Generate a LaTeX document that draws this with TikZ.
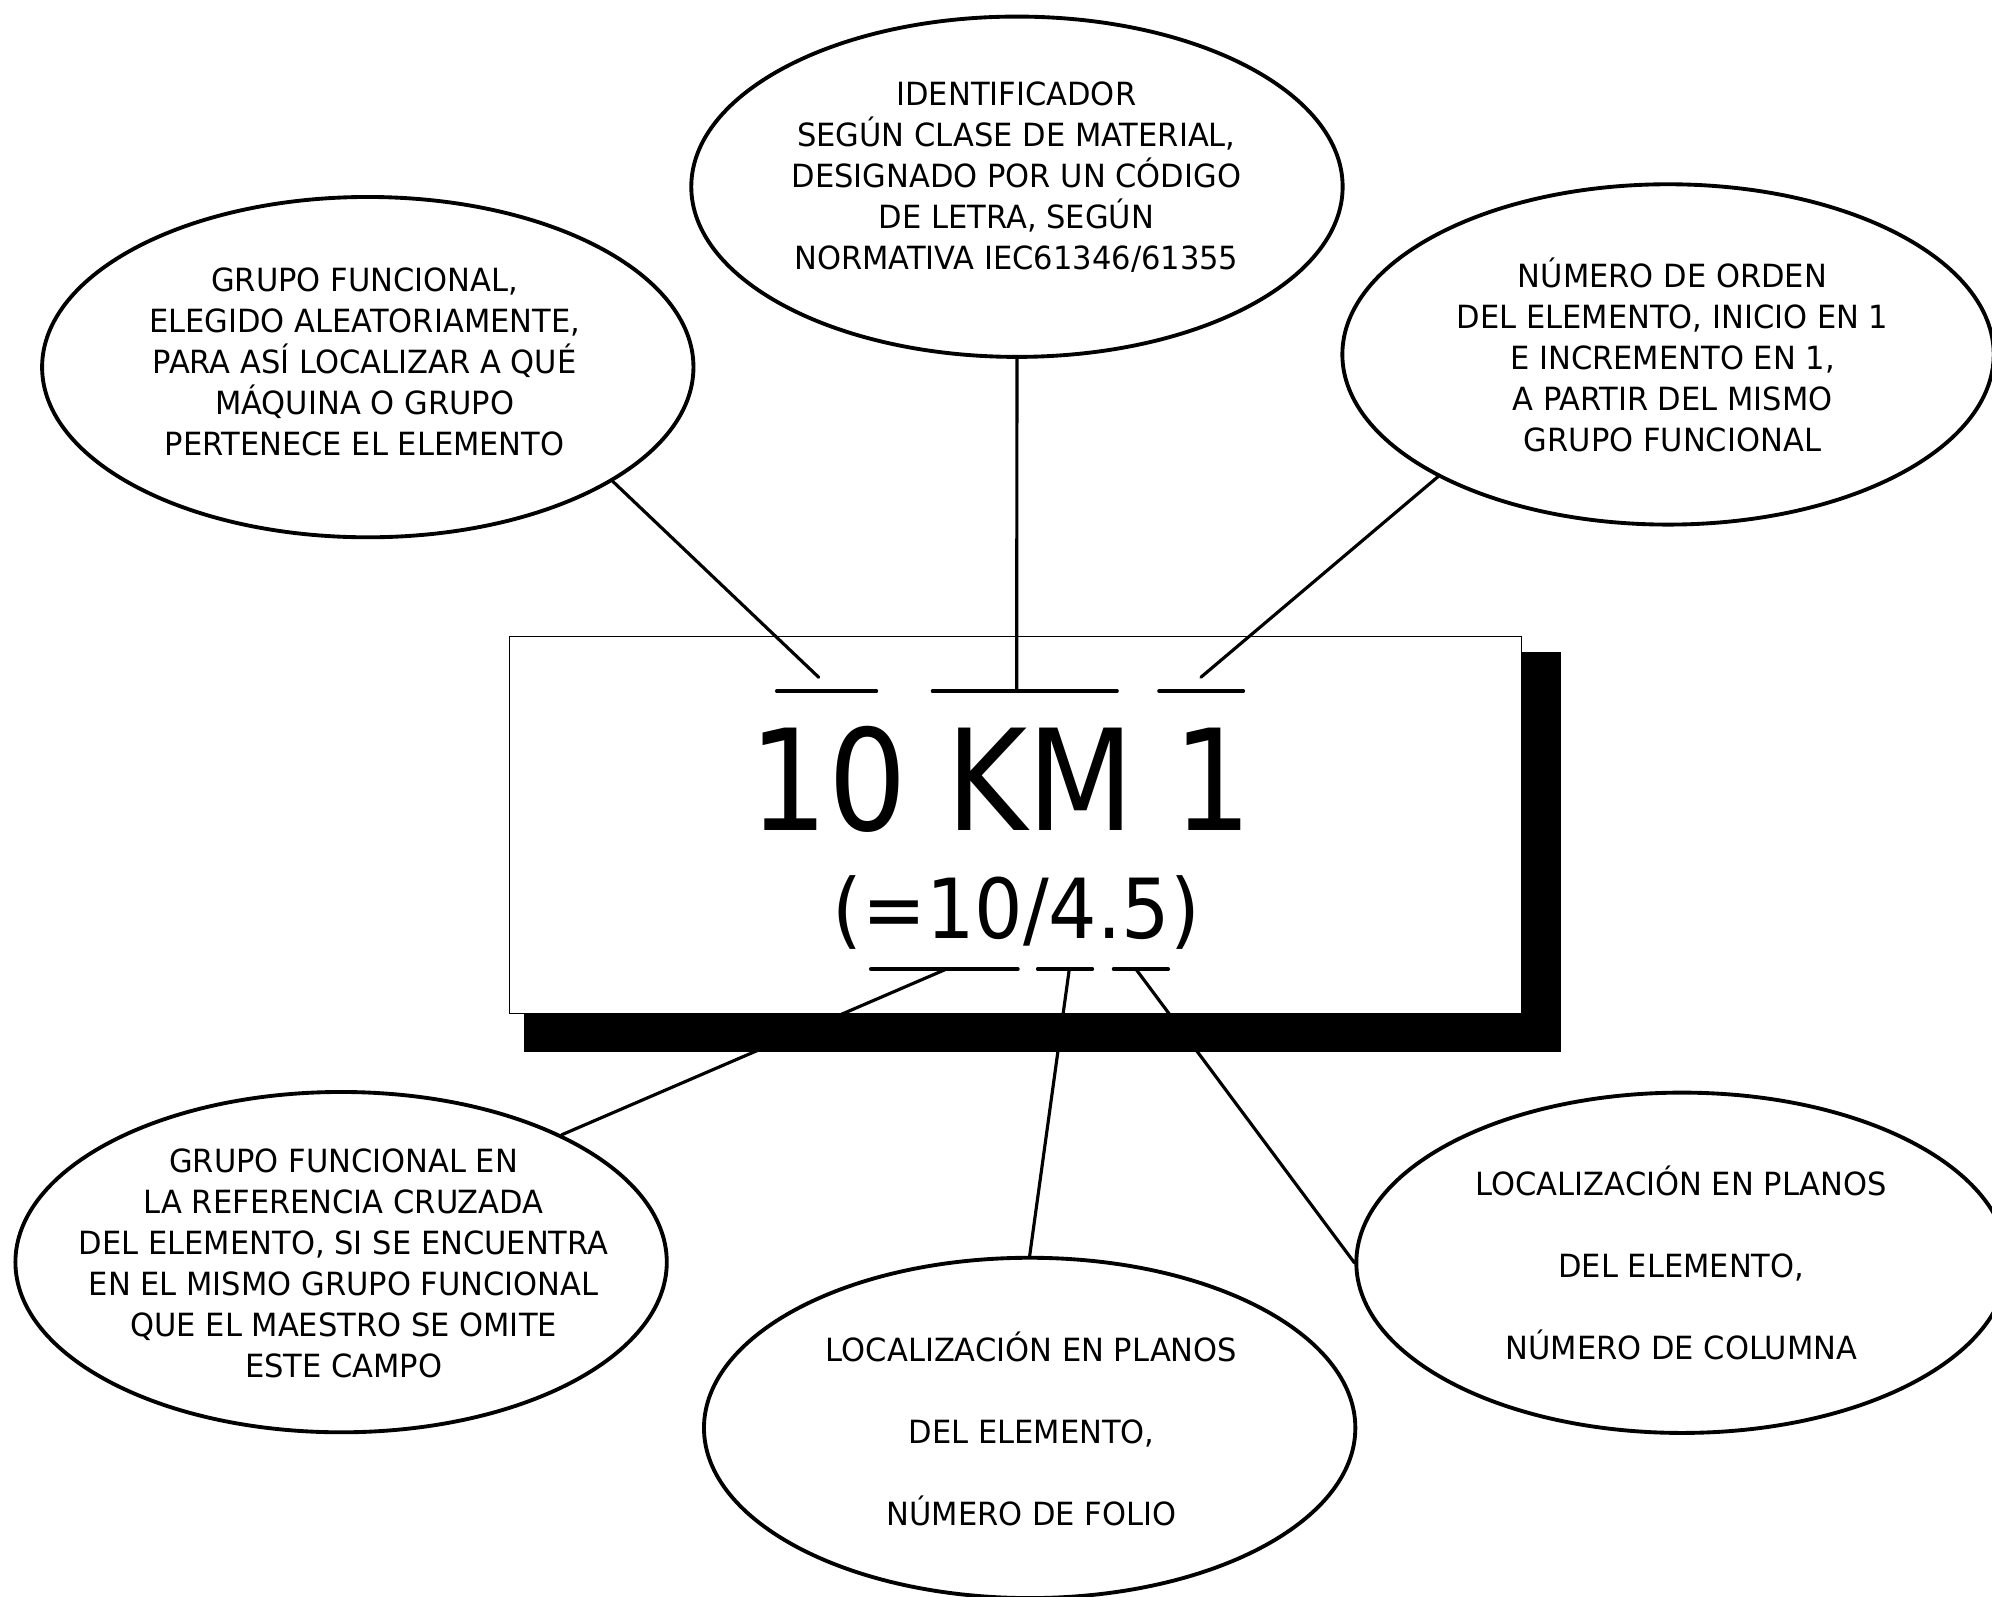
\documentclass[tikz,border=0pt]{standalone}
\usepackage{fontspec}
\setmainfont{DejaVu Sans}[FakeStretch=0.955]
\newfontfamily\bigfont{DejaVu Sans}[FakeStretch=0.88]
\newfontfamily\midfont{DejaVu Sans}[FakeStretch=0.92]
\usetikzlibrary{shapes.geometric}
\begin{document}
\begin{tikzpicture}[x=0.012704cm, y=-0.012704cm,
  ell/.style={ellipse, draw, line width=1.1pt, minimum width=6.517cm, minimum height=3.405cm, inner sep=0pt},
  etxt/.style={align=center, inner sep=0pt, font=\fontsize{9.1}{11.7}\selectfont,
    execute at begin node={\rule{0pt}{9pt}}, execute at end node={\rule[-3pt]{0pt}{3pt}}},
  etxtw/.style={etxt, font=\fontsize{9.1}{23.3}\selectfont},
  link/.style={line width=0.9pt, line cap=round},
  uline/.style={line width=1pt, line cap=round}]
\useasboundingbox (0,0) rectangle (1568,1257);
\fill[white] (0,0) rectangle (1568,1257);

% central box with shadow
\node[fill=black, minimum width=10.379cm, minimum height=4.002cm, inner sep=0pt] (shadow) at (820.5,670.5) {};
\node[draw, fill=white, line width=0.3pt, minimum width=10.125cm, minimum height=3.773cm, inner sep=0pt] (box) at (799.5,649.5) {};

\node[anchor=base, inner sep=0pt, font=\bigfont\fontsize{40}{48}\selectfont] (code) at (788,653.9) {10 KM 1};
\node[anchor=base, inner sep=0pt, font=\midfont\fontsize{23.6}{28}\selectfont] (ref) at (800,739) {(=10/4.5)};

% underlines
\draw[uline] (611.4,544) -- (689.9,544);
\draw[uline] (734,544) -- (879.3,544);
\draw[uline] (912.3,544) -- (978.7,544);
\draw[uline] (685.4,762.8) -- (801.3,762.8);
\draw[uline] (816.8,762.8) -- (859.9,762.8);
\draw[uline] (876.5,762.8) -- (919.6,762.8);

% ellipses
\node[ell] (e1) at (289.5,289) {};
\node[ell] (e2) at (800.5,147) {};
\node[ell] (e3) at (1313,279) {};
\node[ell] (e4) at (268.5,993.5) {};
\node[ell] (e5) at (810.5,1124) {};
\node[ell] (e6) at (1324,994) {};

\node[etxt] (t1) at (287,289) {GRUPO FUNCIONAL,\\ELEGIDO ALEATORIAMENTE,\\PARA ASÍ LOCALIZAR A QUÉ\\MÁQUINA O GRUPO\\PERTENECE EL ELEMENTO};
\node[etxt] (t2) at (800,142.5) {IDENTIFICADOR\\SEGÚN CLASE DE MATERIAL,\\DESIGNADO POR UN CÓDIGO\\DE LETRA, SEGÚN\\NORMATIVA IEC61346/61355};
\node[etxt] (t3) at (1316.5,283.5) {NÚMERO DE ORDEN\\DEL ELEMENTO, INICIO EN 1\\E INCREMENTO EN 1,\\A PARTIR DEL MISMO\\GRUPO FUNCIONAL};
\node[etxt] (t4) at (270.5,998.5) {GRUPO FUNCIONAL EN\\LA REFERENCIA CRUZADA\\DEL ELEMENTO, SI SE ENCUENTRA\\EN EL MISMO GRUPO FUNCIONAL\\QUE EL MAESTRO SE OMITE\\ESTE CAMPO};
\node[etxtw] (t5) at (812,1128.5) {LOCALIZACIÓN EN PLANOS\\DEL ELEMENTO,\\NÚMERO DE FOLIO};
\node[etxtw] (t6) at (1323.5,998) {LOCALIZACIÓN EN PLANOS\\DEL ELEMENTO,\\NÚMERO DE COLUMNA};

% connector ends
\coordinate (k1) at (644.5,533.2);
\coordinate (k2) at (800.3,544);
\coordinate (k3) at (945.3,533.1);
\coordinate (k4) at (745,762.8);
\coordinate (k5) at (841.7,762.8);
\coordinate (k6) at (894.1,762.8);

\draw[link] (e1.-25.5) -- (k1);
\draw[link] (e2.south) -- (k2);
\draw[link] (e3.-152.1) -- (k3);
\draw[link] (k4) -- (e4.30.2);
\draw[link] (k5) -- (e5.north);
\draw[link] (k6) -- (e6.west);
\end{tikzpicture}
\end{document}
